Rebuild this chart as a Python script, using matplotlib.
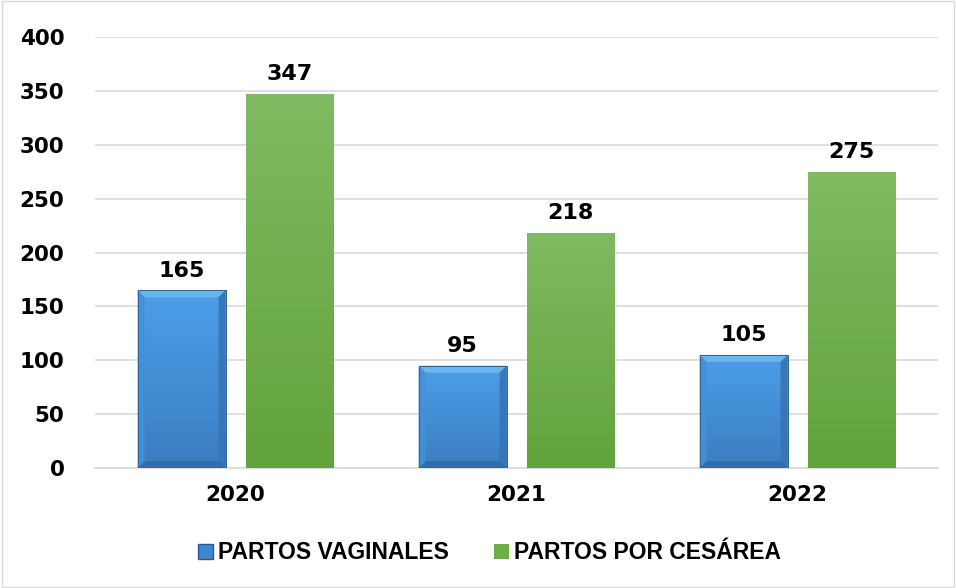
import numpy as np
import matplotlib.pyplot as plt
from matplotlib.patches import Polygon, Rectangle
from matplotlib.colors import LinearSegmentedColormap

years = ['2020', '2021', '2022']
vaginales = [165, 95, 105]
cesarea = [347, 218, 275]
series_names = ['PARTOS VAGINALES', 'PARTOS POR CESÁREA']

plt.rcParams['font.family'] = ['DejaVu Sans']

fig = plt.figure(figsize=(9.56, 5.88), dpi=100)
ax = fig.add_axes([0.0994, 0.204, 0.8818, 0.733])

x = np.arange(len(years))
w = 0.313
off = 0.192

blue_cmap = LinearSegmentedColormap.from_list('b', ['#4C9FE9', '#3B7DC1'])
green_cmap = LinearSegmentedColormap.from_list('g', ['#80BA62', '#62A33B'])
grad = np.linspace(0, 1, 256).reshape(-1, 1)

ax.set_xlim(-0.5, 2.5)
ax.set_ylim(0, 400)

bars_b = ax.bar(x - off, vaginales, w, color='none', zorder=3)
bars_g = ax.bar(x + off, cesarea, w, color='none', zorder=3)

# pixel size in data units for the bevel
fig.canvas.draw()
bbox = ax.get_window_extent()
px_x = 3.0 / bbox.width
px_y = 400.0 / bbox.height

for bars, cmap in [(bars_b, blue_cmap), (bars_g, green_cmap)]:
    for b in bars:
        x0, y0 = b.get_x(), b.get_y()
        bw, bh = b.get_width(), b.get_height()
        im = ax.imshow(grad, cmap=cmap, aspect='auto', origin='upper',
                       extent=[x0, x0 + bw, y0, y0 + bh], zorder=3)
        im.set_clip_path(b)

ax.set_xlim(-0.5, 2.5)
ax.set_ylim(0, 400)

# soft bevel on the blue bars
bx, by = 7 * px_x, 7 * px_y
for b in bars_b:
    x0, y0 = b.get_x(), b.get_y()
    x1, y1 = x0 + b.get_width(), y0 + b.get_height()
    ax.add_patch(Polygon([(x0, y1), (x1, y1), (x1 - bx, y1 - by), (x0 + bx, y1 - by)],
                         closed=True, color='#6CB6EE', lw=0, zorder=4))
    ax.add_patch(Polygon([(x0, y0), (x1, y0), (x1 - bx, y0 + by), (x0 + bx, y0 + by)],
                         closed=True, color='#336DA8', lw=0, zorder=4))
    ax.add_patch(Polygon([(x0, y0), (x0, y1), (x0 + bx, y1 - by), (x0 + bx, y0 + by)],
                         closed=True, color='#4590D8', lw=0, alpha=0.9, zorder=4))
    ax.add_patch(Polygon([(x1, y0), (x1, y1), (x1 - bx, y1 - by), (x1 - bx, y0 + by)],
                         closed=True, color='#3874B3', lw=0, alpha=0.9, zorder=4))
    ax.add_patch(Rectangle((x0, y0), x1 - x0, y1 - y0, fill=False,
                           ec='#2E6398', lw=0.7, zorder=5))

for bars, vals in [(bars_b, vaginales), (bars_g, cesarea)]:
    for b, v in zip(bars, vals):
        ax.text(b.get_x() + b.get_width() / 2, v + 9, str(v), ha='center',
                va='bottom', fontsize=16, fontweight='bold', color='black', zorder=6)

ax.set_yticks(np.arange(0, 401, 50))
ax.yaxis.grid(True, color='#D9D9D9', lw=1.2)
ax.set_axisbelow(True)
ax.set_xticks(x)
ax.set_xticklabels(years)
ax.tick_params(axis='both', length=0, labelsize=15.5)
ax.tick_params(axis='y', pad=22)
ax.tick_params(axis='x', pad=12)
for lab in ax.get_xticklabels() + ax.get_yticklabels():
    lab.set_fontweight('bold')
for s in ['top', 'right', 'left']:
    ax.spines[s].set_visible(False)
ax.spines['bottom'].set_color('#D9D9D9')
ax.spines['bottom'].set_linewidth(1.2)

# legend
h1 = Rectangle((0, 0), 1, 1, fc='#3F86CF', ec='#2B5C8E')
h2 = Rectangle((0, 0), 1, 1, fc='#6DAE45', ec='none')
fig.legend([h1, h2], series_names, loc='center', bbox_to_anchor=(0.512, 0.06),
           ncol=2, frameon=False, handlelength=0.65, handleheight=0.65,
           handletextpad=0.2, columnspacing=2.0,
           prop={'family': 'Liberation Sans', 'weight': 'bold', 'size': 16.5})

# outer frame
fig.patches.append(Rectangle((0.002, 0.002), 0.996, 0.996, transform=fig.transFigure,
                             fill=False, ec='#D9D9D9', lw=1))

fig.savefig('out.png', dpi=100)
